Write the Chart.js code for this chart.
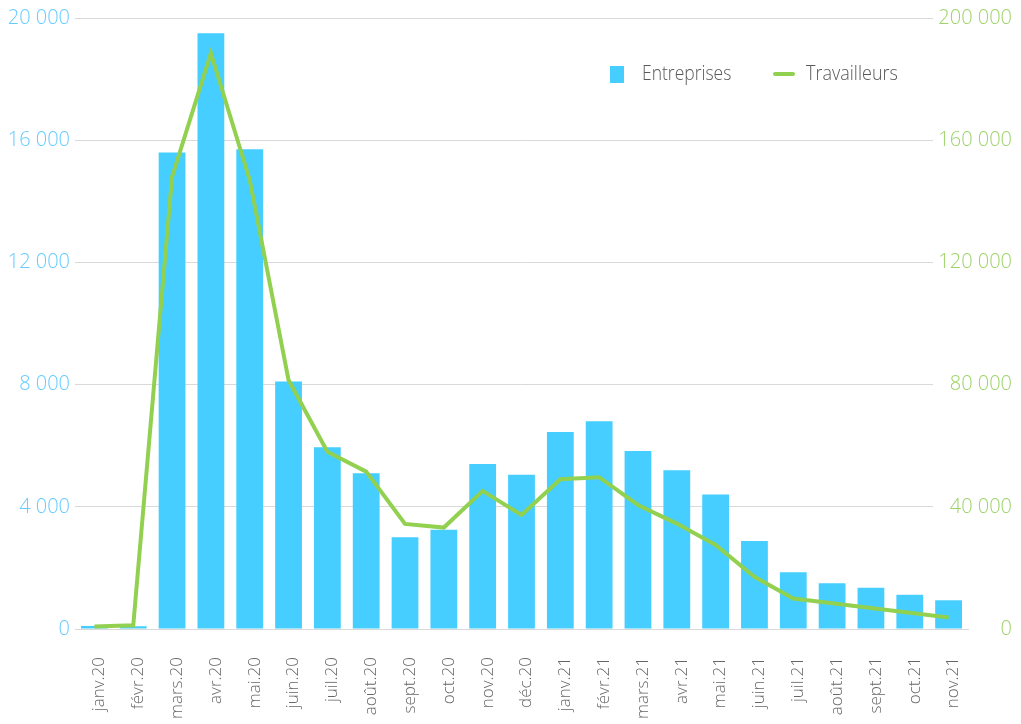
<!DOCTYPE html>
<html>
<head>
<meta charset="utf-8">
<script src="https://cdn.jsdelivr.net/npm/chart.js@4/dist/chart.umd.min.js"></script>
<style>
  html, body { margin: 0; padding: 0; background: #ffffff; }
  #wrap { width: 1021px; height: 724px; position: relative; }
</style>
</head>
<body>
<div id="wrap"><canvas id="c" width="1021" height="724"></canvas></div>
<script>
const categories = ["janv.20","févr.20","mars.20","avr.20","mai.20","juin.20","juil.20","août.20","sept.20","oct.20","nov.20","déc.20",
  "janv.21","févr.21","mars.21","avr.21","mai.21","juin.21","juil.21","août.21","sept.21","oct.21","nov.21"];
const entreprises = [100, 90, 15600, 19500, 15700, 8100, 5950, 5100, 3000, 3250, 5400, 5050,
  6450, 6800, 5830, 5200, 4400, 2880, 1860, 1500, 1350, 1120, 940];
const travailleurs = [800, 1200, 148000, 188500, 147000, 81500, 58000, 51500, 34400, 33200, 45200, 37350,
  49000, 49700, 40600, 34500, 27500, 17100, 10000, 8400, 6900, 5300, 3800];
const leftTicks = [0, 4000, 8000, 12000, 16000, 20000];
const rightTicks = [0, 40000, 80000, 120000, 160000, 200000];
const seriesNames = ["Entreprises", "Travailleurs"];

const BLUE = "#45CEFF";
const GREEN = "#92D050";
const FONT = "'Open Sans', 'DejaVu Sans', sans-serif";

function fmt(v) { return String(v).replace(/\B(?=(\d{3})+(?!\d))/g, " "); }

function condensedText(ctx, text, x, y, sx) {
  ctx.save();
  ctx.translate(x, y);
  ctx.scale(sx, 1);
  ctx.fillText(text, 0, 0);
  ctx.restore();
}

// Gridlines stop short of the right-hand axis labels, as in the original
const gridTrimPlugin = {
  id: "gridTrim",
  beforeDatasetsDraw(chart) {
    const a = chart.chartArea;
    const ctx = chart.ctx;
    ctx.save();
    ctx.fillStyle = "#ffffff";
    ctx.fillRect(a.right - 35, 0, 40, a.bottom - 1);
    ctx.restore();
  }
};

const legendPlugin = {
  id: "customLegend",
  afterDraw(chart) {
    const ctx = chart.ctx;
    ctx.save();
    ctx.fillStyle = BLUE;
    ctx.fillRect(610, 66, 14, 17);
    ctx.font = "300 20px " + FONT;
    ctx.fillStyle = "#595959";
    ctx.textBaseline = "middle";
    ctx.textAlign = "left";
    condensedText(ctx, seriesNames[0], 642, 74, 0.875);
    ctx.strokeStyle = GREEN;
    ctx.lineWidth = 4;
    ctx.lineCap = "round";
    ctx.beginPath();
    ctx.moveTo(775, 74);
    ctx.lineTo(793, 74);
    ctx.stroke();
    condensedText(ctx, seriesNames[1], 806, 74, 0.9);
    ctx.restore();
  }
};

new Chart(document.getElementById("c"), {
  data: {
    labels: categories,
    datasets: [
      {
        type: "line",
        label: seriesNames[1],
        data: travailleurs,
        yAxisID: "y2",
        borderColor: GREEN,
        backgroundColor: GREEN,
        borderWidth: 4,
        pointRadius: 0,
        tension: 0,
        order: 0
      },
      {
        type: "bar",
        label: seriesNames[0],
        data: entreprises,
        yAxisID: "y",
        backgroundColor: BLUE,
        borderWidth: 0,
        barPercentage: 0.69,
        categoryPercentage: 1.0,
        order: 1
      }
    ]
  },
  options: {
    responsive: false,
    animation: false,
    layout: { padding: { top: 18, left: 0, right: 0, bottom: 0 } },
    plugins: {
      legend: { display: false },
      tooltip: { enabled: false }
    },
    scales: {
      x: {
        type: "category",
        offset: true,
        grid: { display: false, drawTicks: false },
        border: { display: true, color: "#d9d9d9", width: 1 },
        ticks: {
          color: "#666666",
          font: { family: FONT, size: 17, weight: 300 },
          minRotation: 90,
          maxRotation: 90,
          padding: 28,
          labelOffset: 5,
          autoSkip: false
        },
        afterFit(scale) { scale.height = 95; }
      },
      y: {
        position: "left",
        min: 0,
        max: 20000,
        afterBuildTicks(scale) { scale.ticks = leftTicks.map(v => ({ value: v })); },
        grid: { color: "#d9d9d9", lineWidth: 1, drawTicks: false },
        border: { display: false },
        ticks: {
          color: "#66CCFF",
          font: { family: FONT, size: 20, weight: 300 },
          padding: 5,
          callback: v => fmt(v)
        },
        afterFit(scale) { scale.width = 75; }
      },
      y2: {
        position: "right",
        min: 0,
        max: 200000,
        afterBuildTicks(scale) { scale.ticks = rightTicks.map(v => ({ value: v })); },
        grid: { display: false, drawTicks: false },
        border: { display: false },
        ticks: {
          color: "#9ED36A",
          font: { family: FONT, size: 20, weight: 300 },
          mirror: true,
          crossAlign: "near",
          padding: 44,
          z: 1,
          callback: v => fmt(v)
        },
        afterFit(scale) {
          scale.width = 53;
          scale.paddingTop = 10;
          scale.paddingBottom = 10;
        }
      }
    }
  },
  plugins: [gridTrimPlugin, legendPlugin]
});
</script>
</body>
</html>
